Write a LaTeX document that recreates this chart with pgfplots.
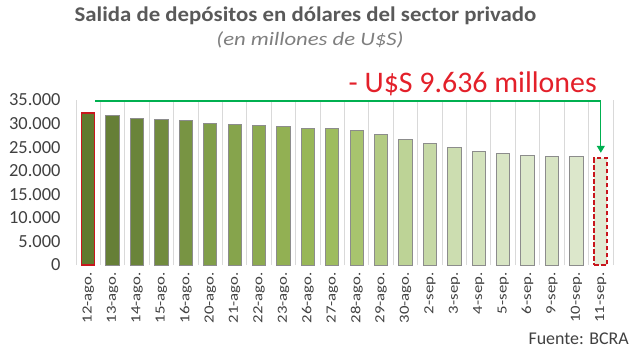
\documentclass[border=0pt]{standalone}
\usepackage{pgfplots}
\pgfplotsset{compat=1.18}
\usetikzlibrary{arrows.meta}
\usepackage{graphicx}
\usepackage{fontspec}
\setmainfont{Carlito}
\definecolor{c1}{HTML}{5F7A2E}
\definecolor{c2}{HTML}{667F37}
\definecolor{c3}{HTML}{6A843A}
\definecolor{c4}{HTML}{718B3E}
\definecolor{c5}{HTML}{789443}
\definecolor{c6}{HTML}{809E49}
\definecolor{c7}{HTML}{86A44C}
\definecolor{c8}{HTML}{8CAA4F}
\definecolor{c9}{HTML}{92B053}
\definecolor{c10}{HTML}{98B757}
\definecolor{c11}{HTML}{9EBC5F}
\definecolor{c12}{HTML}{A8C46E}
\definecolor{c13}{HTML}{B3CB83}
\definecolor{c14}{HTML}{BDD396}
\definecolor{c15}{HTML}{C6D9A6}
\definecolor{c16}{HTML}{CCDDB0}
\definecolor{c17}{HTML}{D3E2BC}
\definecolor{c18}{HTML}{D8E5C4}
\definecolor{c19}{HTML}{DCE8CA}
\definecolor{c20}{HTML}{D7E4C3}
\definecolor{c21}{HTML}{DCE7CB}
\definecolor{c22}{HTML}{E2EBD4}
\definecolor{barline}{HTML}{8C8C8C}
\definecolor{redbar}{HTML}{C8161D}
\definecolor{redtxt}{HTML}{E3202A}
\definecolor{arrowgreen}{HTML}{00B050}
\definecolor{titlegray}{HTML}{595959}
\definecolor{subgray}{HTML}{7F7F7F}
\definecolor{txtgray}{HTML}{404040}
\definecolor{gridgray}{HTML}{D9D9D9}
\newcommand{\xl}[1]{\scalebox{1.2}[1]{#1}}
\begin{document}
\begin{tikzpicture}[x=1bp,y=1bp]
\useasboundingbox (0,0) rectangle (630,351);
\begin{axis}[
  at={(76bp,86bp)}, anchor=south west,
  scale only axis, width=537bp, height=165bp,
  xmin=-0.5, xmax=21.5, ymin=0, ymax=35000,
  enlargelimits=false,
  clip=false,
  scaled y ticks=false,
  ybar, bar width=13.3bp, bar shift=0pt,
  axis line style={draw=none},
  major tick length=0pt, minor tick length=0pt,
  ytick={0,5000,10000,15000,20000,25000,30000,35000},
  yticklabels={0,5.000,10.000,15.000,20.000,25.000,30.000,35.000},
  yticklabel style={font=\fontsize{18.5}{18.5}\selectfont, text=txtgray, anchor=east, xshift=-12bp},
  xtick={0,...,21},
  xticklabels={\xl{12-ago.},\xl{13-ago.},\xl{14-ago.},\xl{15-ago.},\xl{16-ago.},\xl{20-ago.},\xl{21-ago.},\xl{22-ago.},\xl{23-ago.},\xl{26-ago.},\xl{27-ago.},\xl{28-ago.},\xl{29-ago.},\xl{30-ago.},\xl{2-sep.},\xl{3-sep.},\xl{4-sep.},\xl{5-sep.},\xl{6-sep.},\xl{9-sep.},\xl{10-sep.},\xl{11-sep.}},
  xticklabel style={font=\fontsize{14}{14}\selectfont, text=txtgray, rotate=90, anchor=east, xshift=-4bp},
  minor xtick={-0.5,0.5,...,21.5},
  xminorgrids, minor x grid style={gridgray, line width=1bp},
]
\addplot[fill=c1, draw=redbar, line width=1.2bp] coordinates {(0,32250)};
\addplot[fill=c2, draw=barline, line width=1bp] coordinates {(1,31700)};
\addplot[fill=c3, draw=barline, line width=1bp] coordinates {(2,31150)};
\addplot[fill=c4, draw=barline, line width=1bp] coordinates {(3,30850)};
\addplot[fill=c5, draw=barline, line width=1bp] coordinates {(4,30600)};
\addplot[fill=c6, draw=barline, line width=1bp] coordinates {(5,30100)};
\addplot[fill=c7, draw=barline, line width=1bp] coordinates {(6,29800)};
\addplot[fill=c8, draw=barline, line width=1bp] coordinates {(7,29550)};
\addplot[fill=c9, draw=barline, line width=1bp] coordinates {(8,29300)};
\addplot[fill=c10, draw=barline, line width=1bp] coordinates {(9,29050)};
\addplot[fill=c11, draw=barline, line width=1bp] coordinates {(10,29000)};
\addplot[fill=c12, draw=barline, line width=1bp] coordinates {(11,28450)};
\addplot[fill=c13, draw=barline, line width=1bp] coordinates {(12,27650)};
\addplot[fill=c14, draw=barline, line width=1bp] coordinates {(13,26600)};
\addplot[fill=c15, draw=barline, line width=1bp] coordinates {(14,25750)};
\addplot[fill=c16, draw=barline, line width=1bp] coordinates {(15,24900)};
\addplot[fill=c17, draw=barline, line width=1bp] coordinates {(16,24100)};
\addplot[fill=c18, draw=barline, line width=1bp] coordinates {(17,23750)};
\addplot[fill=c19, draw=barline, line width=1bp] coordinates {(18,23300)};
\addplot[fill=c20, draw=barline, line width=1bp] coordinates {(19,23000)};
\addplot[fill=c21, draw=barline, line width=1bp] coordinates {(20,22950)};
\addplot[fill=c22, draw=redbar, line width=2bp, dash pattern=on 4.5bp off 2.5bp] coordinates {(21,22614)};
\draw[arrowgreen, line width=1.3bp, -{Triangle[length=7bp,width=8bp]}]
  (axis cs:0.29,34800) -| (axis cs:21,23800);
\end{axis}
\node[anchor=base, inner sep=0pt, font=\fontsize{21}{21}\selectfont\bfseries, text=titlegray] at (305.5,329.3) {\scalebox{1.09}[1]{Salida de depósitos en dólares del sector privado}};
\node[anchor=base, inner sep=0pt, font=\fontsize{19}{19}\selectfont\itshape, text=subgray] at (310,305.3) {\scalebox{1.2}[1]{(en millones de U\$S)}};
\node[anchor=base east, font=\fontsize{30}{30}\selectfont, text=redtxt, inner sep=0pt] at (597,258.3) {- U\$S 9.636 millones};
\node[anchor=base east, font=\fontsize{18}{18}\selectfont, text=txtgray, inner sep=0pt] at (629,7) {Fuente: BCRA};
\end{tikzpicture}
\end{document}
